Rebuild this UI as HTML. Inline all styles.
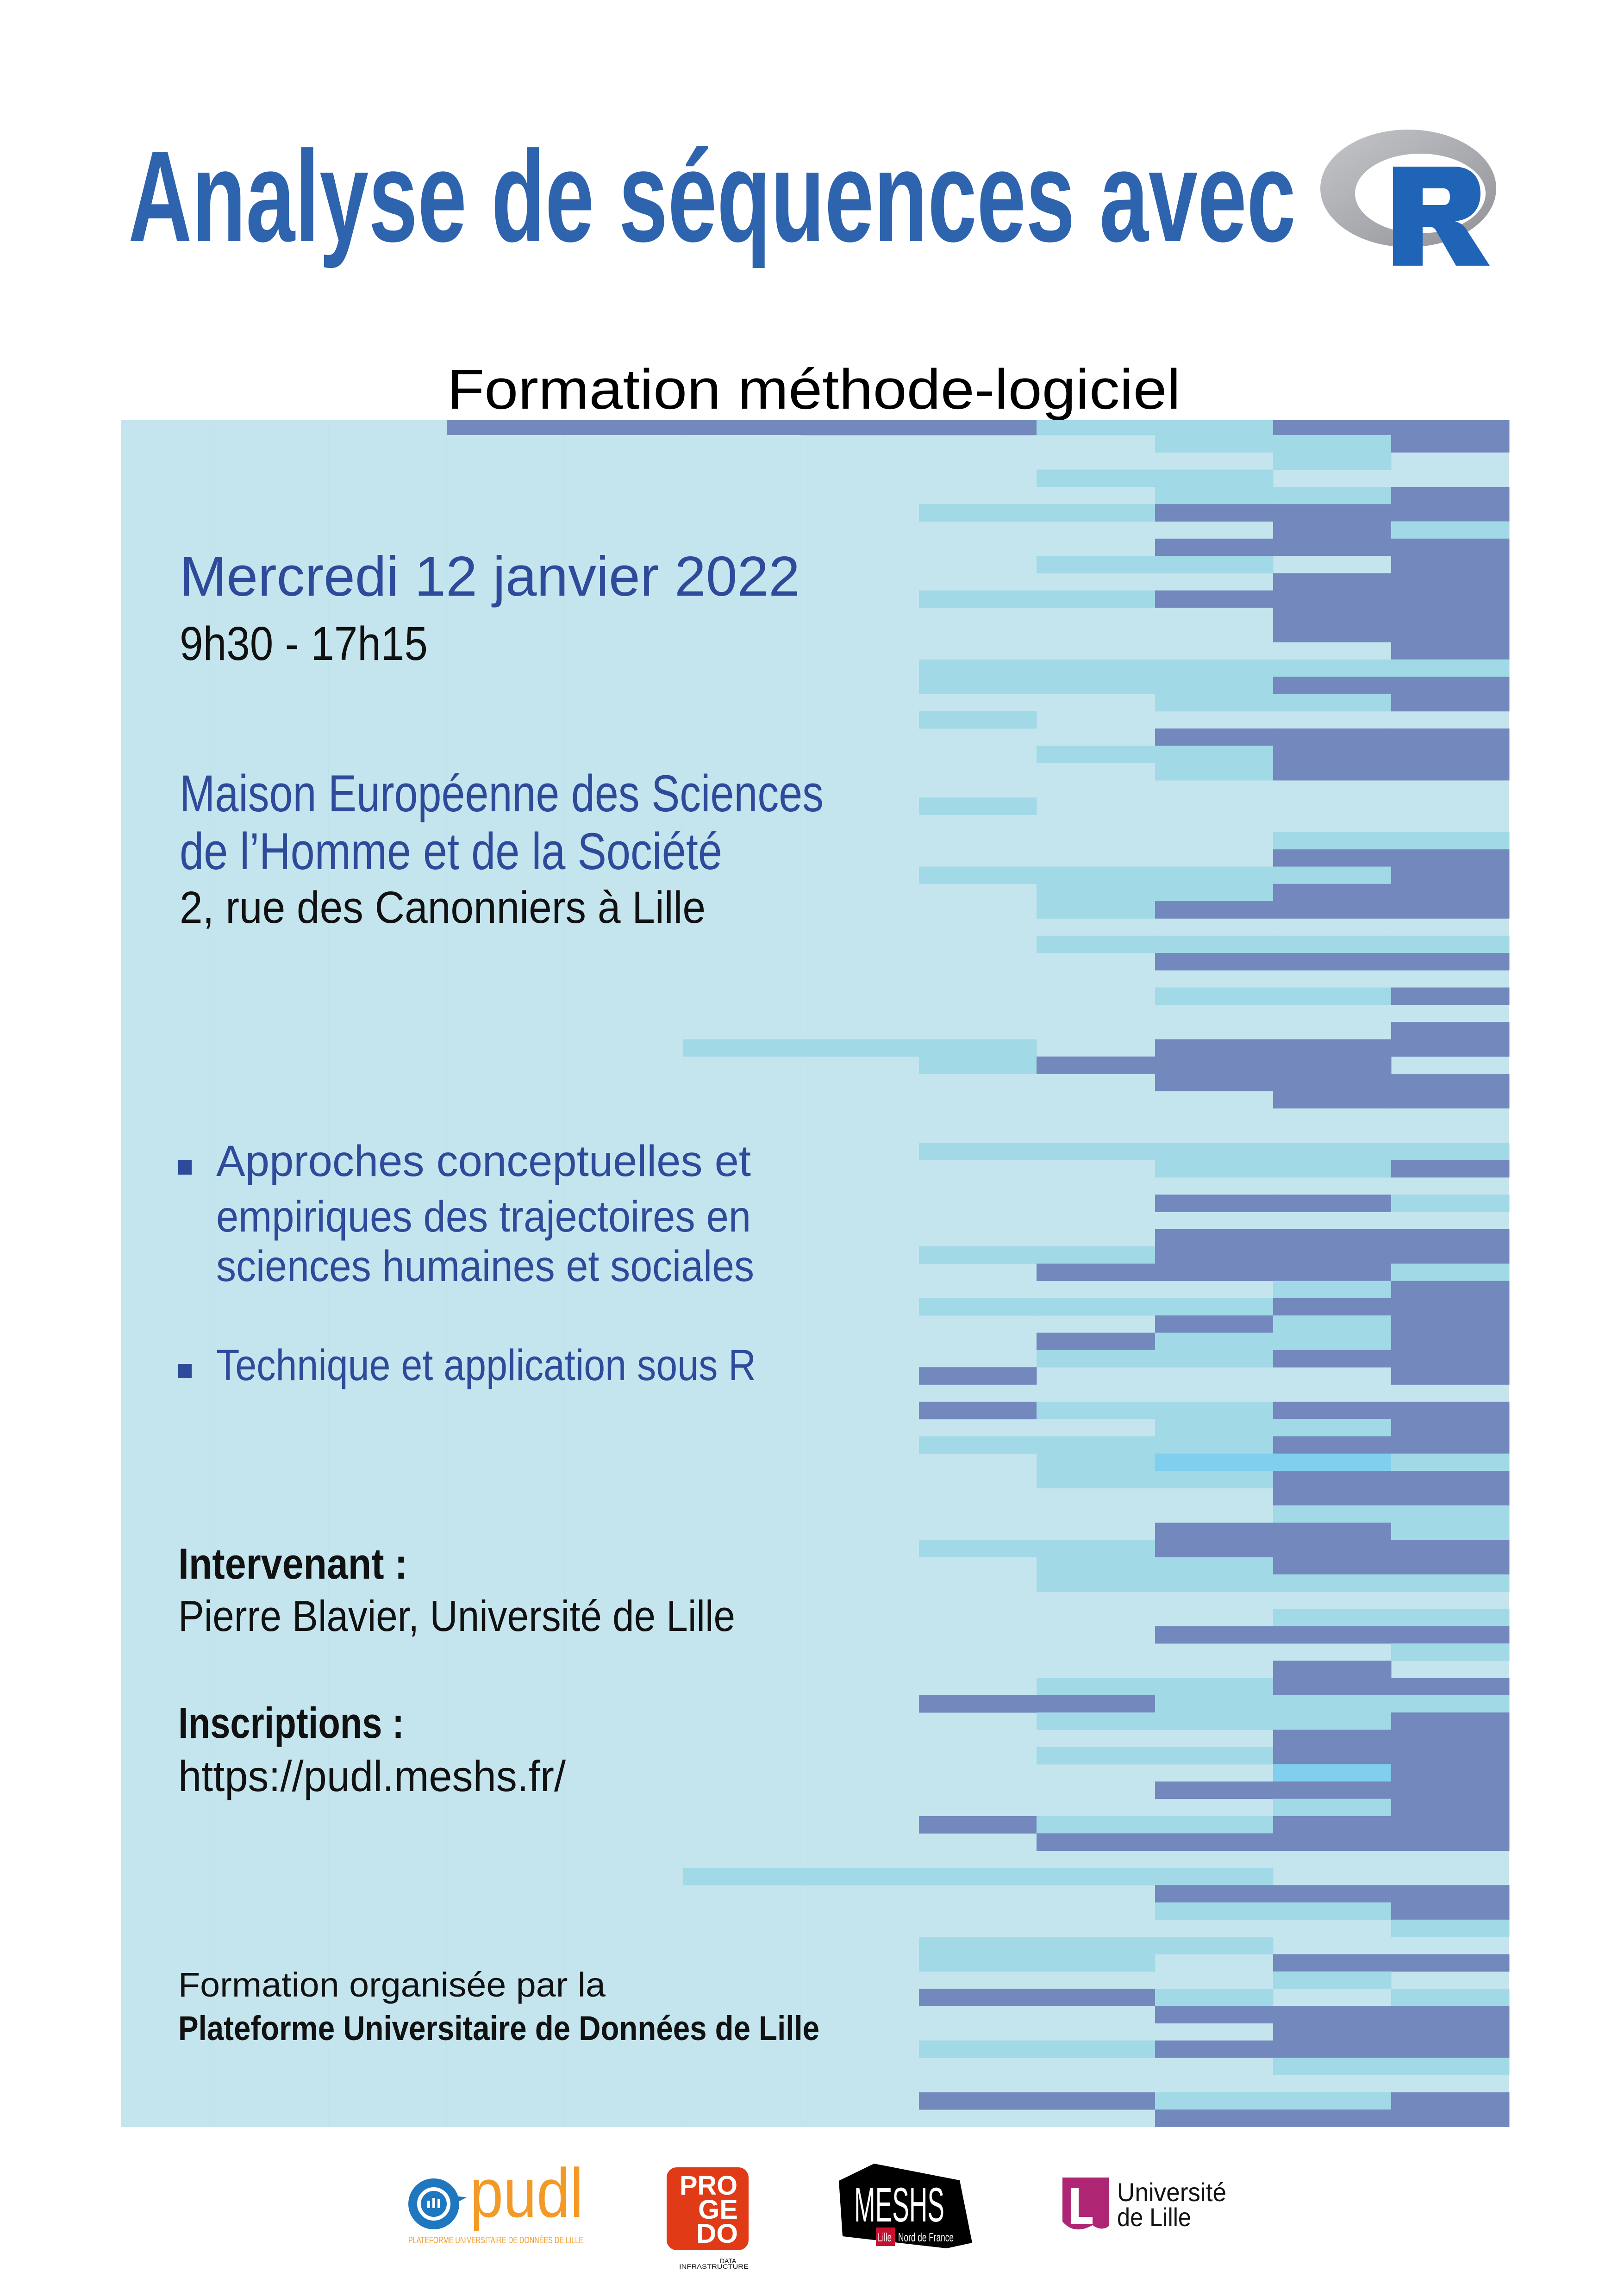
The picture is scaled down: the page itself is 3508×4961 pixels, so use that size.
<!DOCTYPE html>
<html><head><meta charset="utf-8"><style>html,body{margin:0;padding:0;background:#fff;width:3508px;height:4961px;overflow:hidden}svg{display:block}</style></head>
<body>
<svg id="s" xmlns="http://www.w3.org/2000/svg" width="3508" height="4961" viewBox="0 0 3508 4961">
<defs>
<linearGradient id="gr" x1="0" y1="0" x2="1" y2="1"><stop offset="0" stop-color="#c4c6ca"/><stop offset="1" stop-color="#909297"/></linearGradient>
</defs>
<rect width="3508" height="4961" fill="#fff"/>
<text x="277" y="521" font-family="Liberation Sans Narrow, Liberation Sans, sans-serif" font-weight="bold" font-size="280" fill="#2e64ae" textLength="2522" lengthAdjust="spacingAndGlyphs">Analyse de séquences avec</text>
<path fill="url(#gr)" fill-rule="evenodd" d="M2852,407 a190,127 0 1,0 380,0 a190,127 0 1,0 -380,0 Z M2927,418 a141,86 0 1,0 282,0 a141,86 0 1,0 -282,0 Z"/>
<path fill="#2064b8" fill-rule="evenodd" d="M3009,360 H3140 C3180,360 3198,385 3198,418 C3198,455 3175,475 3143,478 C3150,480 3160,485 3165,492 L3218,574 H3145 L3100,495 C3095,490 3090,490 3082,490 H3073 V574 H3009 Z M3073,407 H3118 C3128,407 3132,415 3132,425 C3132,436 3128,443 3118,443 H3073 Z"/>
<text x="966" y="883" font-family="Liberation Sans, sans-serif" font-size="122" fill="#000" textLength="1584" lengthAdjust="spacingAndGlyphs">Formation méthode-logiciel</text>
<rect x="261" y="908" width="2999" height="3688" fill="#c5e5ee"/>
<g id="vl" stroke="#c0e2eb" stroke-width="2">
<line x1="455" y1="908" x2="455" y2="4596"/><line x1="710" y1="908" x2="710" y2="4596"/><line x1="965" y1="908" x2="965" y2="4596"/><line x1="1220" y1="908" x2="1220" y2="4596"/><line x1="1475" y1="908" x2="1475" y2="4596"/><line x1="1730" y1="908" x2="1730" y2="4596"/>
</g>
<g id="grid"></g>
<g font-family="Liberation Sans, sans-serif">
<text x="388" y="1287" font-size="122" fill="#2e4a9a" textLength="1340" lengthAdjust="spacingAndGlyphs">Mercredi 12 janvier 2022</text>
<text x="388" y="1426" font-size="103" fill="#111" textLength="536" lengthAdjust="spacingAndGlyphs">9h30 - 17h15</text>
<text x="388" y="1753" font-size="112" fill="#2e4a9a" textLength="1391" lengthAdjust="spacingAndGlyphs">Maison Européenne des Sciences</text>
<text x="388" y="1878" font-size="112" fill="#2e4a9a" textLength="1172" lengthAdjust="spacingAndGlyphs">de l’Homme et de la Société</text>
<text x="388" y="1994" font-size="97" fill="#111" textLength="1136" lengthAdjust="spacingAndGlyphs">2, rue des Canonniers à Lille</text>
<rect x="385" y="2507" width="29" height="31" fill="#2e4a9a"/>
<rect x="385" y="2947" width="29" height="31" fill="#2e4a9a"/>
<text x="467" y="2541" font-size="95" fill="#2e4a9a" textLength="1155" lengthAdjust="spacingAndGlyphs">Approches conceptuelles et</text>
<text x="467" y="2661" font-size="95" fill="#2e4a9a" textLength="1155" lengthAdjust="spacingAndGlyphs">empiriques des trajectoires en</text>
<text x="467" y="2768" font-size="95" fill="#2e4a9a" textLength="1162" lengthAdjust="spacingAndGlyphs">sciences humaines et sociales</text>
<text x="467" y="2982" font-size="95" fill="#2e4a9a" textLength="1166" lengthAdjust="spacingAndGlyphs">Technique et application sous R</text>
<text x="385" y="3411" font-size="94" font-weight="bold" fill="#111" textLength="495" lengthAdjust="spacingAndGlyphs">Intervenant :</text>
<text x="385" y="3524" font-size="94" fill="#111" textLength="1203" lengthAdjust="spacingAndGlyphs">Pierre Blavier, Université de Lille</text>
<text x="385" y="3755" font-size="94" font-weight="bold" fill="#111" textLength="488" lengthAdjust="spacingAndGlyphs">Inscriptions :</text>
<text x="385" y="3870" font-size="94" fill="#111" textLength="837" lengthAdjust="spacingAndGlyphs">https://pudl.meshs.fr/</text>
<text x="385" y="4314" font-size="74" fill="#111" textLength="923" lengthAdjust="spacingAndGlyphs">Formation organisée par la</text>
<text x="385" y="4408" font-size="74" font-weight="bold" fill="#111" textLength="1385" lengthAdjust="spacingAndGlyphs">Plateforme Universitaire de Données de Lille</text>
</g>
<g font-family="Liberation Sans, sans-serif">
<circle cx="937" cy="4762" r="55" fill="#1f77c0"/>
<path d="M985,4745 L1008,4748 L988,4758 Z" fill="#1f77c0"/>
<circle cx="937" cy="4762" r="32" fill="none" stroke="#fff" stroke-width="8"/>
<rect x="923" y="4755" width="6" height="16" fill="#fff"/><rect x="934" y="4749" width="6" height="22" fill="#fff"/><rect x="945" y="4752" width="6" height="19" fill="#fff"/>
<text x="1015" y="4790" font-size="150" fill="#f39a26" textLength="245" lengthAdjust="spacingAndGlyphs">pudl</text>
<text x="882" y="4847" font-size="20" fill="#f39a26" textLength="378" lengthAdjust="spacingAndGlyphs">PLATEFORME UNIVERSITAIRE DE DONNÉES DE LILLE</text>
<rect x="1440" y="4683" width="177" height="179" rx="22" fill="#e03a17"/>
<text x="1468" y="4742" font-size="58" font-weight="bold" fill="#fff" textLength="125" lengthAdjust="spacingAndGlyphs">PRO</text>
<text x="1508" y="4794" font-size="58" font-weight="bold" fill="#fff" textLength="86" lengthAdjust="spacingAndGlyphs">GE</text>
<text x="1504" y="4846" font-size="58" font-weight="bold" fill="#fff" textLength="90" lengthAdjust="spacingAndGlyphs">DO</text>
<text x="1555" y="4890" font-size="14" fill="#111">DATA</text>
<text x="1467" y="4902" font-size="14" fill="#111" textLength="150" lengthAdjust="spacingAndGlyphs">INFRASTRUCTURE</text>
<path d="M1812,4712 L1888,4675 L2073,4711 L2100,4846 L2045,4858 L1820,4832 Z" fill="#000"/>
<text x="1845" y="4800" font-size="105" fill="#fff" textLength="195" lengthAdjust="spacingAndGlyphs">MESHS</text>
<rect x="1892" y="4813" width="41" height="40" fill="#c8102e"/>
<text x="1896" y="4843" font-size="26" fill="#fff" textLength="30" lengthAdjust="spacingAndGlyphs">Lille</text>
<text x="1940" y="4843" font-size="26" fill="#fff" textLength="120" lengthAdjust="spacingAndGlyphs">Nord de France</text>
<path d="M2295,4705 H2395 V4810 Q2380,4822 2360,4808 Q2320,4830 2295,4800 Z" fill="#ae2573"/>
<path d="M2314,4728 H2330 V4790 H2360 V4806 H2314 Z" fill="#fff"/>
<text x="2413" y="4756" font-size="56" fill="#111" textLength="236" lengthAdjust="spacingAndGlyphs">Université</text>
<text x="2413" y="4810" font-size="56" fill="#111" textLength="160" lengthAdjust="spacingAndGlyphs">de Lille</text>
</g>
</svg>
<script>
(function(){
var rows=["DDCCDD","LLLCCD","LLLLCL","LLCCLL","LLLCCD","LCCDDD","LLLLDC","LLLDDD","LLCCLD","LLLLDD",
"LCCDDD","LLLLDD","LLLLDD","LLLLLD","LCCCCC","LCCCDD","LLLCCD","LCLLLL","LLLDDD","LLCCDD",
"LLLCDD","LLLLLL","LCLLLL","LLLLLL","LLLLCC","LLLLDD","LCCCCD","LLCCDD","LLCDDD","LLLLLL",
"LLCCCC","LLLDDD","LLLLLL","LLLCCD","LLLLLL","LLLLLD","CCLDDD","LCDDDL","LLLDDD","LLLLDD",
"LLLLLL","LLLLLL","LCCCCC","LLLCCD","LLLLLL","LLLDDC","LLLLLL","LLLDDD","LCCDDD","LLDDDC",
"LLLLCD","LCCCDD","LLLDCD","LLDCCD","LLCCDD","LDLLLD","LLLLLL","LDCCDD","LLLCCD","LCCCDD",
"LLCSSC","LLCCDD","LLLLDD","LLLLCC","LLLDDC","LCCDDD","LLCCDD","LLCCCC","LLLLLL","LLLLCC",
"LLLDDD","LLLLLC","LLLLDL","LLCCDD","LDDCCC","LLCCCD","LLLLDD","LLCCDD","LLLLSD","LLLDDD",
"LLLLCD","LDCCDD","LLDDDD","LLLLLL","CCCCLL","LLLDDD","LLLCCD","LLLLLC","LCCCLL","LCCLDD",
"LLLLCL","LDDCLC","LLLDDD","LLLLDD","LCCDDD","LLLLCC","LLLLLL","LDDCCD","LLLDDD"];
var col={C:"#a1d9e6",D:"#7389bd",S:"#80cfee"};
var xs=[1730,1985,2239,2495,2750,3005,3260];
var g=document.getElementById("grid"),ns="http://www.w3.org/2000/svg";
function r(x,y,w,h,f){var e=document.createElementNS(ns,"rect");e.setAttribute("x",x);e.setAttribute("y",y);e.setAttribute("width",w);e.setAttribute("height",h);e.setAttribute("fill",f);g.appendChild(e);}
for(var i=0;i<rows.length;i++){
 var y0=i==0?908:940+(i-1)*37.3, y1=940+i*37.3;
 for(var j=0;j<6;j++){var c=rows[i][j];if(c!="L")r(xs[j],y0,xs[j+1]-xs[j]+0.5,y1-y0+0.4,col[c]);}
}
r(965,908,766,32,col.D);
r(1475,940+35*37.3,256,37.6,col.C);
r(1475,940+83*37.3,256,37.6,col.C);
})();
</script>
</body></html>
